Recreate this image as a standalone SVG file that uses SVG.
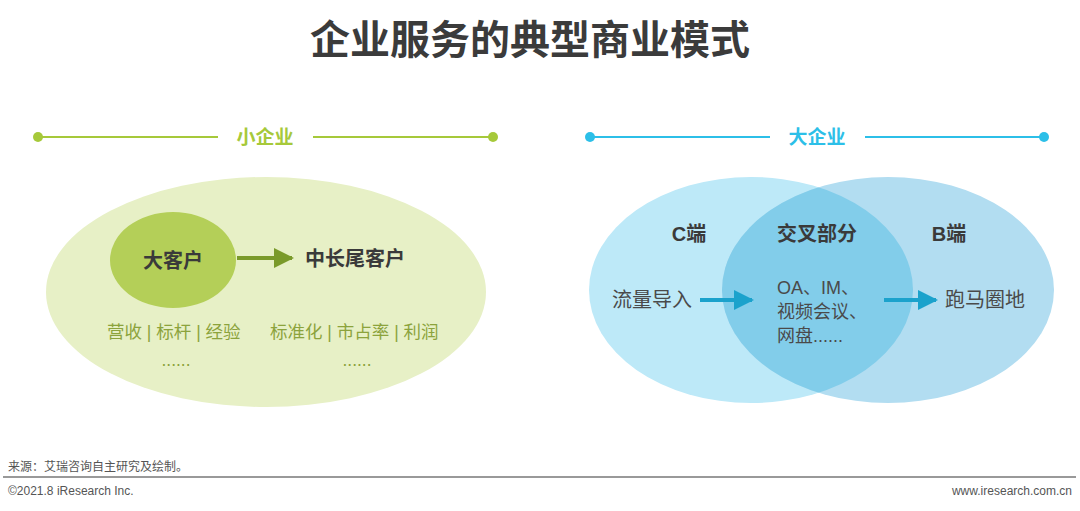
<svg xmlns="http://www.w3.org/2000/svg" width="1080" height="511" viewBox="0 0 1080 511">
<style>
.cn{font-family:"Liberation Sans","Noto Sans CJK SC",sans-serif}
.title{font-size:40px;font-weight:bold;fill:#3b3b3b}
.hdrG{font-size:19px;font-weight:bold;fill:#a6c93a}
.hdrB{font-size:19px;font-weight:bold;fill:#2cbfe8}
.lbl{font-size:20px;font-weight:bold;fill:#3a3a3a}
.sub{font-size:17.5px;fill:#8ca33c}
.txt{font-size:20px;fill:#4a4a4a}
.txs{font-size:18px;fill:#4a4a4a}
.foot{font-size:12px;fill:#555}
</style>
<defs>
<marker id="ag" viewBox="0 0 10 10" refX="9" refY="5" markerWidth="5" markerHeight="5" orient="auto"><path d="M0,0 L10,5 L0,10 z" fill="#7a9a2a"/></marker>
<marker id="ab" viewBox="0 0 10 10" refX="9" refY="5" markerWidth="5" markerHeight="5" orient="auto"><path d="M0,0 L10,5 L0,10 z" fill="#1ba2cc"/></marker>
<clipPath id="clipL"><ellipse cx="751" cy="290" rx="162" ry="113"/></clipPath>
</defs>
<rect width="1080" height="511" fill="#ffffff"/>
<g id="title"><text class="cn title" x="530" y="54" text-anchor="middle">企业服务的典型商业模式</text></g>
<g id="hdr-small">
<line x1="38" y1="137" x2="218" y2="137" stroke="#a6c93a" stroke-width="2"/>
<line x1="313" y1="137" x2="493" y2="137" stroke="#a6c93a" stroke-width="2"/>
<circle cx="38" cy="137" r="5" fill="#a6c93a"/><circle cx="493" cy="137" r="5" fill="#a6c93a"/>
<text class="cn hdrG" x="265" y="144" text-anchor="middle">小企业</text>
</g>
<g id="hdr-big">
<line x1="590" y1="137" x2="770" y2="137" stroke="#2cbfe8" stroke-width="2"/>
<line x1="865" y1="137" x2="1044" y2="137" stroke="#2cbfe8" stroke-width="2"/>
<circle cx="590" cy="137" r="5" fill="#2cbfe8"/><circle cx="1044" cy="137" r="5" fill="#2cbfe8"/>
<text class="cn hdrB" x="817" y="144" text-anchor="middle">大企业</text>
</g>
<g id="small-ellipse">
<ellipse cx="266" cy="292" rx="220" ry="115" fill="#e7f0c6"/>
<text class="cn sub" x="107" y="338">营收 | 标杆 | 经验</text>
<text class="cn sub" x="270" y="338">标准化 | 市占率 | 利润</text>
<text class="cn sub" x="176" y="366" text-anchor="middle">......</text>
<text class="cn sub" x="357" y="366" text-anchor="middle">......</text>
</g>
<g id="big-client">
<ellipse cx="173" cy="260" rx="63" ry="48" fill="#b4cf58"/>
<text class="cn lbl" x="173" y="268" text-anchor="middle">大客户</text>
</g>
<g id="long-tail"><text class="cn lbl" x="305" y="266">中长尾客户</text></g>
<g id="venn">
<ellipse id="c-end" cx="751" cy="290" rx="162" ry="113" fill="#bde9f8"/>
<ellipse id="b-end" cx="888" cy="290" rx="166" ry="113" fill="#b2ddf1"/>
<ellipse cx="888" cy="290" rx="166" ry="113" fill="#82cdea" clip-path="url(#clipL)"/>
<text class="cn lbl" x="689" y="241" text-anchor="middle">C端</text>
<text class="cn lbl" x="817" y="241" text-anchor="middle">交叉部分</text>
<text class="cn lbl" x="949" y="241" text-anchor="middle">B端</text>
<text class="cn txt" x="612" y="307">流量导入</text>
<text class="cn txs" x="777" y="294">OA、IM、</text>
<text class="cn txs" x="777" y="318">视频会议、</text>
<text class="cn txs" x="777" y="342">网盘......</text>
<text class="cn txt" x="945" y="307">跑马圈地</text>
</g>
<g id="connectors">
<line x1="237" y1="258" x2="292" y2="258" stroke="#7a9a2a" stroke-width="4" marker-end="url(#ag)"/>
<line x1="700" y1="300" x2="752" y2="300" stroke="#1ba2cc" stroke-width="4" marker-end="url(#ab)"/>
<line x1="884" y1="300" x2="936" y2="300" stroke="#1ba2cc" stroke-width="4" marker-end="url(#ab)"/>
</g>
<g id="footer">
<text class="cn foot" x="8" y="471">来源：艾瑞咨询自主研究及绘制。</text>
<line x1="3" y1="477" x2="1076" y2="477" stroke="#999" stroke-width="2"/>
<text class="cn foot" x="8" y="495">©2021.8 iResearch Inc.</text>
<text class="cn foot" x="1072" y="495" text-anchor="end">www.iresearch.com.cn</text>
</g>
</svg>
